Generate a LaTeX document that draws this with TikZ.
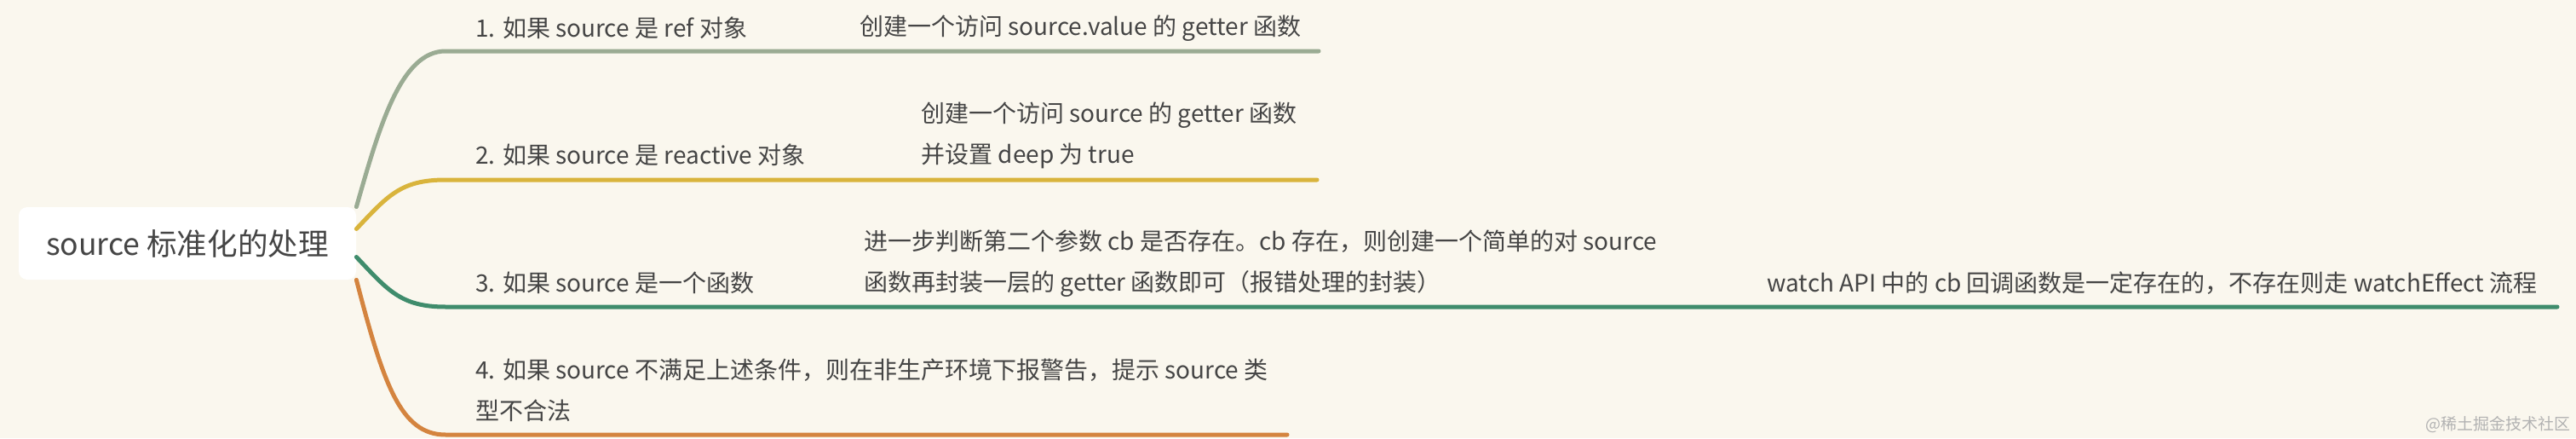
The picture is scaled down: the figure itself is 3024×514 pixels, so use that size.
\documentclass[tikz,border=0pt]{standalone}
\usepackage{fontspec}
\setmainfont{Noto Sans CJK SC}
\definecolor{paper}{HTML}{FAF7EE}
\definecolor{ink}{HTML}{454545}
\definecolor{sage}{HTML}{9AAB93}
\definecolor{mustard}{HTML}{D9B43C}
\definecolor{pine}{HTML}{3F8C6C}
\definecolor{amber}{HTML}{D4843F}
\tikzset{
  topic/.style={anchor=west, inner sep=0pt, text=ink, align=left,
    font=\fontsize{14}{24}\selectfont},
  branch/.style={line width=2.5pt, line cap=round},
}

\begin{document}
\begin{tikzpicture}[x=0.5pt, y=-0.5pt]
		\fill[paper] (0,0) rectangle (3024,514);
		\useasboundingbox (0,0) rectangle (3024,514);

		% root
		\node[fill=white, rounded corners=5pt, minimum width=198pt, minimum height=42.5pt,
			text=ink, font=\fontsize{17.8}{20}\selectfont] (root) at (220,285.5) {source 标准化的处理};

		% branch texts
		\node[topic] (b1) at (558,33) {1. 如果 source 是 ref 对象};
		\node[topic] (c1) at (1009,33) {创建一个访问 source.value 的 getter 函数};
		\node[topic] (b2) at (558,182) {2. 如果 source 是 reactive 对象};
		\node[topic] (c2) at (1081,159) {创建一个访问 source 的 getter 函数\\并设置 deep 为 true};
		\node[topic] (b3) at (558,332) {3. 如果 source 是一个函数};
		\node[topic] (c3) at (1014,309) {进一步判断第二个参数 cb 是否存在。cb 存在，则创建一个简单的对 source\\函数再封装一层的 getter 函数即可（报错处理的封装）};
		\node[topic] (g3) at (2074,332) {watch API 中的 cb 回调函数是一定存在的，不存在则走 watchEffect 流程};
		\node[topic] (b4) at (558,458) {4. 如果 source 不满足上述条件，则在非生产环境下报警告，提示 source 类\\型不合法};

		% line ends
		\coordinate (k1) at (523,60);  \coordinate (t1) at (1548,60);
		\coordinate (k2) at (523,211); \coordinate (t2) at (1546,211);
		\coordinate (k3) at (523,360); \coordinate (t3) at (3002,360);
		\coordinate (k4) at (523,510); \coordinate (t4) at (1511,510);

		\draw[branch, sage] (root.north east) .. controls (445,150) and (470,60) .. (k1) -- (t1);
		\draw[branch, mustard] ([yshift=8.5pt]root.east) .. controls (455,230) and (470,211) .. (k2) -- (t2);
		\draw[branch, pine] ([yshift=-8pt]root.east) .. controls (455,340) and (470,360) .. (k3) -- (t3);
		\draw[branch, amber] (root.south east) .. controls (450,450) and (470,510) .. (k4) -- (t4);

		\node[anchor=east, inner sep=0pt, text=black!30, font=\fontsize{9.5}{10}\selectfont] (mark) at (3018,498) {@稀土掘金技术社区};
	\end{tikzpicture}
\end{document}
